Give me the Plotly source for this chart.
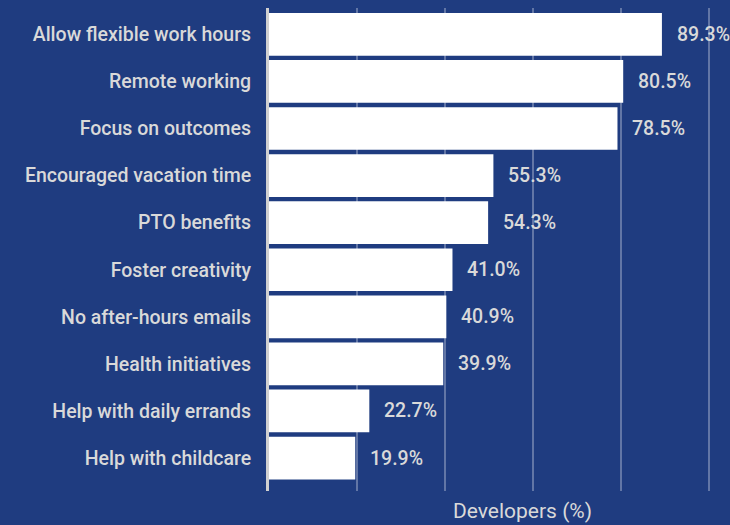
import plotly.graph_objects as go

# share of developers naming each perk
perks = [
    "Allow flexible work hours",
    "Remote working",
    "Focus on outcomes",
    "Encouraged vacation time",
    "PTO benefits",
    "Foster creativity",
    "No after-hours emails",
    "Health initiatives",
    "Help with daily errands",
    "Help with childcare",
]
# bar lengths as drawn in the picture (a few differ from the printed labels)
bar_lengths = [89.3, 80.5, 79.2, 51.0, 49.8, 41.7, 40.3, 39.6, 22.8, 19.6]
# printed value labels
label_values = [89.3, 80.5, 78.5, 55.3, 54.3, 41.0, 40.9, 39.9, 22.7, 19.9]

BG = "#1f3c80"
TXT = "#d9d9d9"
FONT = "Roboto"

W, H = 730, 525
ML, MR, MT, MB = 269, 0, 8, 34
PX_PER_UNIT = 4.4
xmax = (W - ML - MR) / PX_PER_UNIT

fig = go.Figure(
    go.Bar(
        x=bar_lengths,
        y=perks,
        orientation="h",
        marker=dict(color="white", line=dict(width=0)),
        hoverinfo="y",
    )
)

# value labels to the right of each bar
for p, b, v in zip(perks, bar_lengths, label_values):
    fig.add_annotation(
        x=b, y=p, xref="x", yref="y",
        text=f"{v:.1f}%", showarrow=False,
        xanchor="left", xshift=13,
        font=dict(family=FONT, size=19.5, color=TXT, weight=500),
    )

# axis title sits centred a bit right of the plot middle
fig.add_annotation(
    x=(522 - ML) / (W - ML - MR), y=0, xref="paper", yref="paper",
    yshift=-20, yanchor="middle", text="Developers (%)", showarrow=False,
    font=dict(family=FONT, size=21, color=TXT),
)

fig.update_layout(
    width=W, height=H,
    margin=dict(l=ML, r=MR, t=MT, b=MB),
    paper_bgcolor=BG, plot_bgcolor=BG,
    bargap=0.093,
    showlegend=False,
    font=dict(family=FONT, color=TXT),
)
fig.update_xaxes(
    range=[0, xmax], dtick=20, showticklabels=False,
    showgrid=True, gridcolor="rgba(255,255,255,0.3)", gridwidth=1.5,
    zeroline=False, fixedrange=True,
)
fig.update_yaxes(
    type="category", range=[9.7, -0.56],
    showline=True, linecolor="#d0d0d0", linewidth=3,
    showgrid=False, ticks="", ticklabelstandoff=11,
    tickfont=dict(family=FONT, size=19.5, color=TXT, weight=500),
    fixedrange=True,
)

fig.write_html(
    "out.html",
    config={"displayModeBar": False},
    post_script="document.body.style.margin='0px';",
)
